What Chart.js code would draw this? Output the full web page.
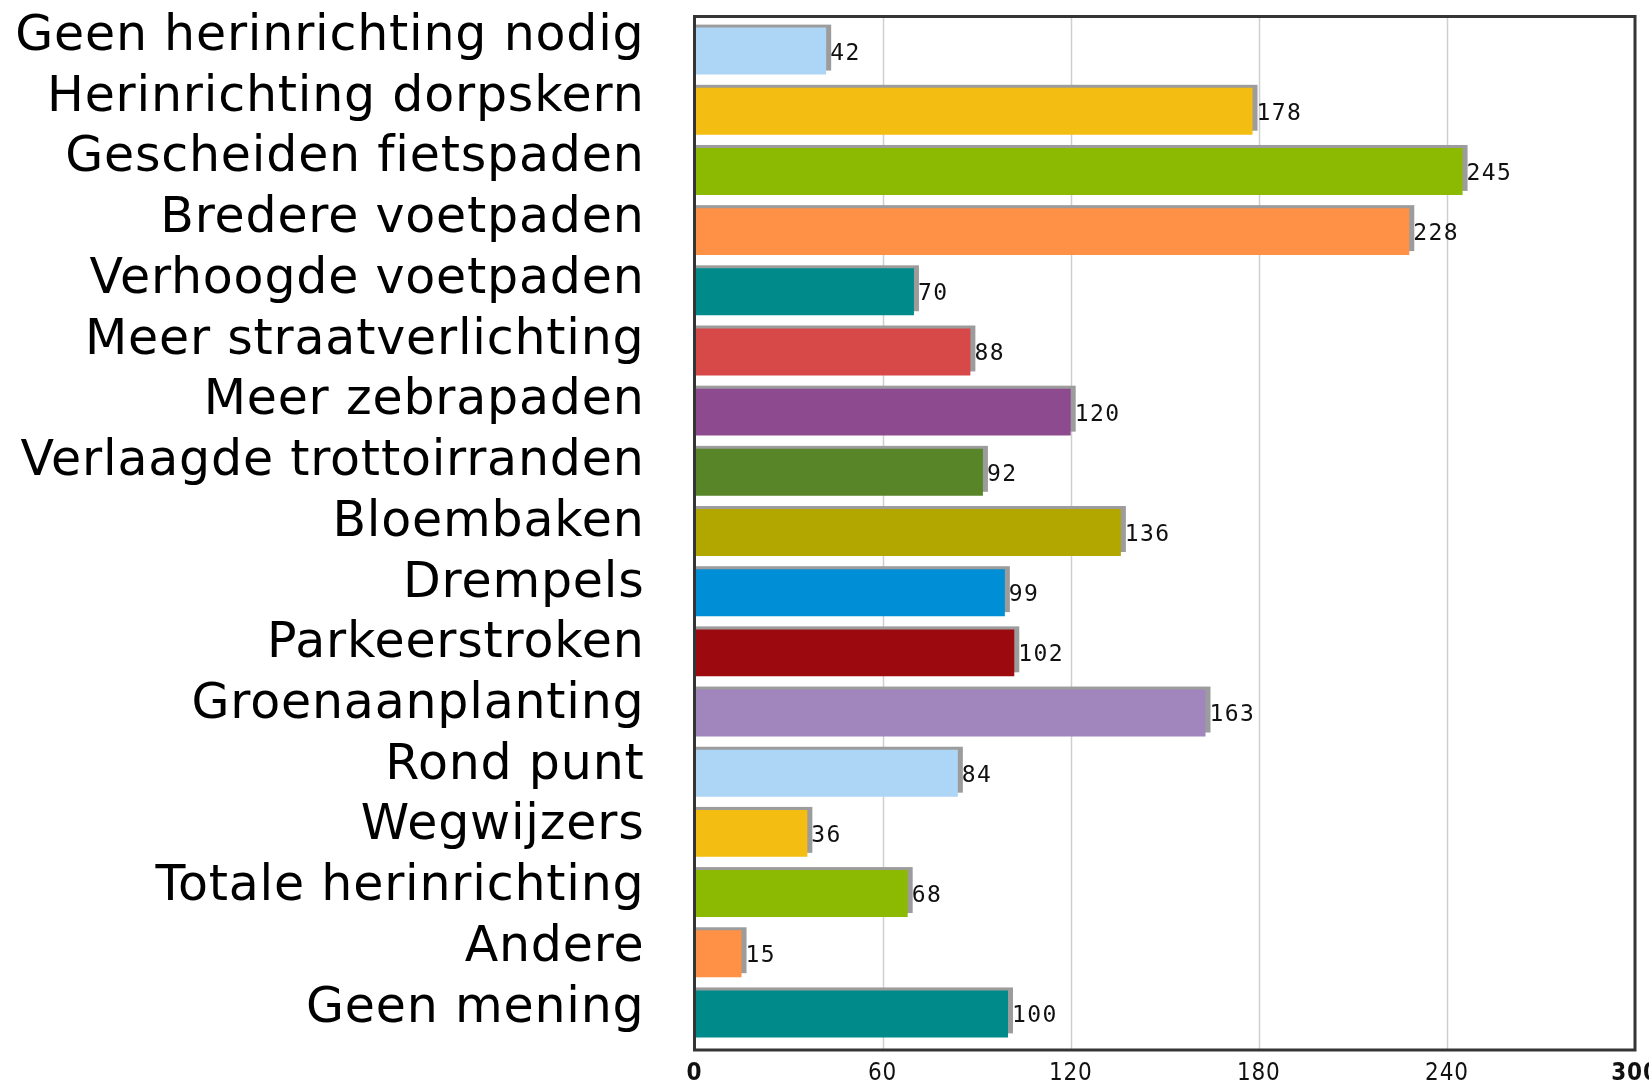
<!DOCTYPE html>
<html>
<head>
<meta charset="utf-8">
<script src="https://cdn.jsdelivr.net/npm/chart.js@4/dist/chart.umd.min.js"></script>
<style>
  html, body { margin: 0; padding: 0; background: #ffffff; }
  #wrap { width: 1649px; height: 1085px; position: relative; }
</style>
</head>
<body>
<div id="wrap"><canvas id="c"></canvas></div>
<script>
const categories = [
  "Geen herinrichting nodig",
  "Herinrichting dorpskern",
  "Gescheiden fietspaden",
  "Bredere voetpaden",
  "Verhoogde voetpaden",
  "Meer straatverlichting",
  "Meer zebrapaden",
  "Verlaagde trottoirranden",
  "Bloembaken",
  "Drempels",
  "Parkeerstroken",
  "Groenaanplanting",
  "Rond punt",
  "Wegwijzers",
  "Totale herinrichting",
  "Andere",
  "Geen mening"
];
const values = [42, 178, 245, 228, 70, 88, 120, 92, 136, 99, 102, 163, 84, 36, 68, 15, 100];
const barColors = [
  "#acd5f6", "#f4bd12", "#8cba02", "#ff9146", "#008b8a", "#d74848",
  "#8d4a8e", "#588527", "#b2a700", "#008ed6", "#9c0a10", "#a086bd",
  "#acd5f6", "#f4bd12", "#8cba02", "#ff9146", "#008b8a"
];
const xTicks = [0, 60, 120, 180, 240, 300];

const framePlugin = {
  id: 'frame',
  beforeDraw(chart) {
    const ctx = chart.ctx;
    if ('letterSpacing' in ctx) ctx.letterSpacing = '0.8px';
  },
  beforeDatasetsDraw(chart) {
    const { ctx, chartArea } = chart;
    const xs = chart.scales.x;
    ctx.save();
    // vertical gridlines
    ctx.strokeStyle = '#cfcfcf';
    ctx.lineWidth = 1.5;
    xTicks.forEach(v => {
      if (v === 0 || v === 300) return;
      const px = Math.round(xs.getPixelForValue(v)) + 0.5;
      ctx.beginPath();
      ctx.moveTo(px, chartArea.top - 4);
      ctx.lineTo(px, chartArea.bottom + 5);
      ctx.stroke();
    });
    // bar shadows
    const meta = chart.getDatasetMeta(0);
    ctx.fillStyle = '#9c9c9c';
    meta.data.forEach(el => {
      const p = el.getProps(['x', 'y', 'base', 'height'], true);
      ctx.fillRect(p.base, p.y - p.height / 2 - 3, (p.x + 5) - p.base, p.height - 1);
    });
    ctx.restore();
  },
  afterDraw(chart) {
    const { ctx, chartArea } = chart;
    ctx.save();
    // value labels
    const meta = chart.getDatasetMeta(0);
    ctx.fillStyle = '#111111';
    ctx.font = '23px "DejaVu Sans Mono"';
    if ('letterSpacing' in ctx) ctx.letterSpacing = '1.4px';
    ctx.textAlign = 'left';
    ctx.textBaseline = 'middle';
    meta.data.forEach((el, i) => {
      const p = el.getProps(['x', 'y'], true);
      ctx.fillText(String(values[i]), p.x + 4, p.y + 2.5);
    });
    // frame
    ctx.strokeStyle = '#353535';
    ctx.lineWidth = 3;
    ctx.strokeRect(chartArea.left, chartArea.top - 4.5, chartArea.right - chartArea.left, (chartArea.bottom + 6) - (chartArea.top - 4.5));
    ctx.restore();
    if ('letterSpacing' in ctx) ctx.letterSpacing = '0px';
  }
};

new Chart(document.getElementById('c'), {
  type: 'bar',
  data: {
    labels: categories,
    datasets: [{
      data: values,
      backgroundColor: barColors,
      borderWidth: 0,
      barPercentage: 0.78,
      categoryPercentage: 1.0
    }]
  },
  options: {
    indexAxis: 'y',
    responsive: true,
    maintainAspectRatio: false,
    devicePixelRatio: 1,
    animation: false,
    layout: { padding: { top: 21, right: 14, bottom: 0, left: 0 } },
    plugins: { legend: { display: false }, tooltip: { enabled: false } },
    scales: {
      x: {
        type: 'linear',
        position: 'bottom',
        min: 0,
        max: 300,
        grid: { display: false, drawTicks: false },
        border: { display: false },
        afterBuildTicks: s => { s.ticks = xTicks.map(v => ({ value: v })); },
        ticks: {
          padding: 15,
          color: '#111111',
          maxRotation: 0,
          font: ctx => ({
            family: '"DejaVu Sans Condensed", "DejaVu Sans"',
            size: 24,
            weight: (ctx.tick && (ctx.tick.value === 0 || ctx.tick.value === 300)) ? 'bold' : 'normal'
          })
        },
        afterFit: s => { s.height = 41; s.paddingLeft = 0; s.paddingRight = 0; }
      },
      y: {
        type: 'category',
        display: false,
        offset: true
      },
      yl: {
        type: 'linear',
        position: 'left',
        reverse: true,
        offset: false,
        bounds: 'data',
        beginAtZero: false,
        min: -0.264,
        max: 16.576,
        grid: { display: false, drawTicks: false, offset: false },
        border: { display: false },
        afterBuildTicks: s => { s.ticks = categories.map((c, i) => ({ value: i })); },
        ticks: {
          padding: 50,
          color: '#000000',
          autoSkip: false,
          font: { family: '"DejaVu Sans"', size: 49 },
          callback: v => categories[v]
        },
        afterFit: s => { s.width = 694.5; s.paddingTop = 0; s.paddingBottom = 0; }
      }
    }
  },
  plugins: [framePlugin]
});
</script>
</body>
</html>
